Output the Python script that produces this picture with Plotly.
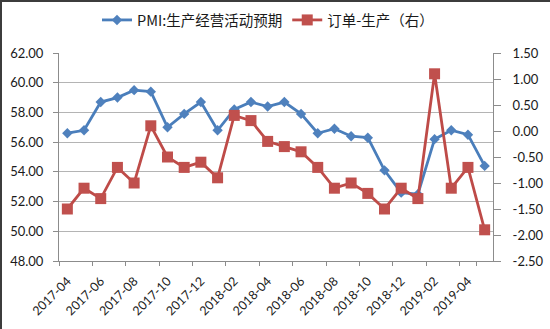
import plotly.graph_objects as go

# Monthly categories
months = [
    "2017-04", "2017-05", "2017-06", "2017-07", "2017-08", "2017-09",
    "2017-10", "2017-11", "2017-12", "2018-01", "2018-02", "2018-03",
    "2018-04", "2018-05", "2018-06", "2018-07", "2018-08", "2018-09",
    "2018-10", "2018-11", "2018-12", "2019-01", "2019-02", "2019-03",
    "2019-04", "2019-05",
]

# PMI: production & business activity expectations (left axis)
pmi_expect = [
    56.6, 56.8, 58.7, 59.0, 59.5, 59.4, 57.0, 57.9, 58.7, 56.8,
    58.2, 58.7, 58.4, 58.7, 57.9, 56.6, 56.9, 56.4, 56.3, 54.1,
    52.6, 52.5, 56.2, 56.8, 56.5, 54.4,
]

# New orders minus production (right axis)
order_minus_prod = [
    -1.5, -1.1, -1.3, -0.7, -1.0, 0.1, -0.5, -0.7, -0.6, -0.9,
    0.3, 0.2, -0.2, -0.3, -0.4, -0.7, -1.1, -1.0, -1.2, -1.5,
    -1.1, -1.3, 1.1, -1.1, -0.7, -1.9,
]

left_ticks = [48, 50, 52, 54, 56, 58, 60, 62]
right_ticks = [-2.5, -2.0, -1.5, -1.0, -0.5, 0.0, 0.5, 1.0, 1.5]
x_ticks = months[::2]

NUM_FONT = dict(family="Lato, 'Open Sans', sans-serif", size=13, color="#1a1a1a")
X_FONT = dict(family="Lato, 'Open Sans', sans-serif", size=12.5, color="#1a1a1a")
CJK_FONT = dict(family="'Noto Sans CJK SC', sans-serif", size=14.5, color="#1a1a1a")
AXIS_GRAY = "#8c8c8c"

fig = go.Figure()

fig.add_trace(go.Scatter(
    x=months, y=pmi_expect, name="PMI:生产经营活动预期",
    mode="lines+markers",
    line=dict(color="#4A7EBB", width=2.8),
    marker=dict(symbol="diamond", size=8, color="#4F81BD",
                line=dict(width=0)),
    yaxis="y",
))

fig.add_trace(go.Scatter(
    x=months, y=order_minus_prod, name="订单-生产（右）",
    mode="lines+markers",
    line=dict(color="#BE4B48", width=2.8),
    marker=dict(symbol="square", size=11, color="#C0504D",
                line=dict(width=0)),
    yaxis="y2",
))

ML, MR, MT, MB = 59, 57, 53, 68
W, H = 550, 329
pw, ph = W - ML - MR, H - MT - MB

fig.update_layout(
    width=W, height=H,
    margin=dict(l=ML, r=MR, t=MT, b=MB, autoexpand=False),
    paper_bgcolor="white", plot_bgcolor="white",
    showlegend=True,
    legend=dict(
        orientation="h", xref="paper", x=0.5 - 8 / pw, xanchor="center",
        yref="container", y=1 - 20 / H, yanchor="middle",
        font=CJK_FONT, itemwidth=30, bgcolor="rgba(0,0,0,0)",
    ),
    xaxis=dict(
        type="category", range=[-0.5, len(months) - 0.5],
        tickmode="array", tickvals=x_ticks, ticktext=x_ticks,
        tickson="boundaries", ticks="outside", ticklen=4,
        tickcolor=AXIS_GRAY, tickangle=-45, ticklabelstandoff=7,
        showline=True, linecolor=AXIS_GRAY, linewidth=1,
        showgrid=False, zeroline=False, tickfont=X_FONT,
        automargin=False,
    ),
    yaxis=dict(
        range=[48, 62], tickmode="array", tickvals=left_ticks,
        ticktext=[f"{v:.2f}" for v in left_ticks],
        ticks="outside", ticklen=5, tickcolor=AXIS_GRAY,
        ticklabelstandoff=7,
        showline=True, linecolor=AXIS_GRAY, linewidth=1,
        showgrid=True, gridcolor="#b4b4b4", gridwidth=1,
        zeroline=False, tickfont=NUM_FONT, automargin=False,
    ),
    yaxis2=dict(
        range=[-2.5, 1.5], overlaying="y", side="right",
        tickmode="array", tickvals=right_ticks,
        ticktext=[f"{v:.2f}" for v in right_ticks],
        ticks="outside", ticklen=7, tickcolor=AXIS_GRAY,
        ticklabelstandoff=9,
        showline=True, linecolor=AXIS_GRAY, linewidth=1,
        showgrid=False, zeroline=False, tickfont=NUM_FONT,
        automargin=False,
    ),
)

# Dark frame edges along the top and left of the canvas
left_x = (1 - ML) / pw
top_y = 1 + (MT - 1) / ph
fig.add_shape(type="line", xref="paper", yref="paper",
              x0=left_x, x1=left_x, y0=-MB / ph, y1=top_y + 0.01,
              line=dict(color="#3c3c3c", width=2))
fig.add_shape(type="line", xref="paper", yref="paper",
              x0=left_x, x1=(W - ML) / pw, y0=top_y, y1=top_y,
              line=dict(color="#3c3c3c", width=2))

fig.write_html("out.html")
